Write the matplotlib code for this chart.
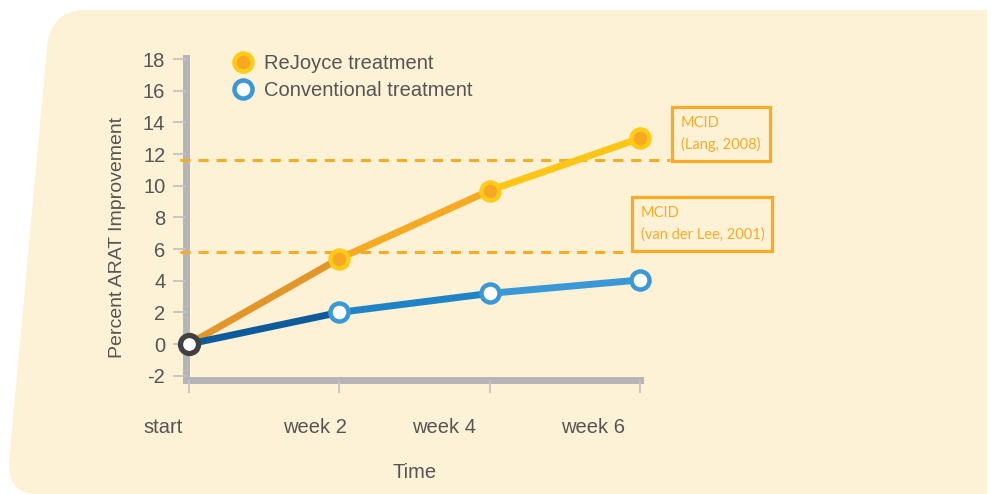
import matplotlib
matplotlib.use('Agg')
import matplotlib.pyplot as plt
from matplotlib.lines import Line2D
from matplotlib.patches import PathPatch, Rectangle
from matplotlib.path import Path
import matplotlib.transforms as transforms

# data
weeks = ['start', 'week 2', 'week 4', 'week 6']
rejoyce = [0, 5.4, 9.7, 13.0]
conventional = [0, 2.0, 3.2, 4.05]
mcid_lang = 11.6
mcid_vdl = 5.8
yticks = list(range(-2, 19, 2))

W, H = 991, 494
FONT = ['Liberation Sans', 'DejaVu Sans']
plt.rcParams['font.family'] = FONT

TXT = '#555555'
SPINE = '#b5b5b7'
ORANGE = '#f9ab25'
BG = '#fdf2d6'
FS = 14.5

fig = plt.figure(figsize=(W / 100, H / 100), dpi=100)
fig.patch.set_facecolor('white')

# pixel -> figure transform (y measured from the top)
px = transforms.Affine2D().scale(1 / W, -1 / H).translate(0, 1) + fig.transFigure

# background card with two rounded corners on the left
verts = [(82, 10), (987, 10), (987, 494), (36, 494),
         (16, 494), (8, 480), (9, 462),
         (47, 48), (48, 26), (62, 10), (82, 10)]
codes = [Path.MOVETO, Path.LINETO, Path.LINETO, Path.LINETO,
         Path.CURVE4, Path.CURVE4, Path.CURVE4,
         Path.LINETO, Path.CURVE4, Path.CURVE4, Path.CURVE4]
fig.patches.append(PathPatch(Path(verts, codes), facecolor=BG, edgecolor='none',
                             transform=px, zorder=-5))

ax = fig.add_axes([185.5 / W, 1 - 380 / H, (640 - 185.5) / W, (380 - 58) / H])
ax.set_facecolor('none')
ax.set_zorder(2)
x = list(range(len(weeks)))
ax.set_xlim(-0.023, 3)
ax.set_ylim(-2.27, 18.07)

for s in ['top', 'right']:
    ax.spines[s].set_visible(False)
for s in ['left', 'bottom']:
    ax.spines[s].set_color(SPINE)
    ax.spines[s].set_linewidth(5)
    ax.spines[s].set_zorder(1)

ax.set_yticks(yticks)
ax.set_yticklabels([str(v) for v in yticks])
ax.set_xticks(x)
ax.set_xticklabels(weeks)
ax.tick_params(axis='both', length=9.5, width=1.3, color='#c4c4c4',
               labelcolor=TXT, labelsize=FS)
ax.tick_params(axis='y', pad=5)
ax.tick_params(axis='x', pad=18)

# x tick labels sit a bit left of their ticks in the original
shifts = [-26, -24, -46, -47]
for lab, dx in zip(ax.get_xticklabels(), shifts):
    lab.set_transform(lab.get_transform() +
                      transforms.ScaledTranslation(dx / 100, 0, fig.dpi_scale_trans))

# MCID reference lines
ax.plot([-0.06, 3.2], [mcid_lang] * 2, color=ORANGE, lw=2.2, dashes=(3.3, 2.6),
        clip_on=False, zorder=2)
ax.plot([-0.06, 2.93], [mcid_vdl] * 2, color=ORANGE, lw=2.2, dashes=(3.3, 2.6),
        clip_on=False, zorder=2)

# series lines, colour changing along the way
rj_cols = ['#e2962a', '#f8a922', '#fdc616']
cv_cols = ['#0e5b9b', '#1f84c5', '#3a98d5']
for i in range(len(x) - 1):
    ax.plot(x[i:i + 2], rejoyce[i:i + 2], color=rj_cols[i], lw=5,
            solid_capstyle='butt', clip_on=False, zorder=3)
    ax.plot(x[i:i + 2], conventional[i:i + 2], color=cv_cols[i], lw=5,
            solid_capstyle='butt', clip_on=False, zorder=3)

rj_style = dict(marker='o', ms=13, mew=3.2, mfc='#f6a823', mec='#ffcb17', ls='none')
cv_style = dict(marker='o', ms=13, mew=3.2, mfc='white', mec='#3a98d6', ls='none')
ax.plot(x[1:], rejoyce[1:], clip_on=False, zorder=4, **rj_style)
ax.plot(x[1:], conventional[1:], clip_on=False, zorder=4, **cv_style)
ax.plot(x[:1], conventional[:1], marker='o', ms=13, mew=3.8, mfc='white',
        mec='#414042', ls='none', clip_on=False, zorder=5)

# legend
handles = [Line2D([], [], **rj_style), Line2D([], [], **cv_style)]
leg = ax.legend(handles, ['ReJoyce treatment', 'Conventional treatment'],
                loc='upper left', bbox_to_anchor=(233 / W, 1 - 54 / H),
                bbox_transform=fig.transFigure, frameon=False, fontsize=FS,
                labelcolor=TXT, handlelength=1.0, handletextpad=0.55,
                labelspacing=0.42, borderpad=0, borderaxespad=0)

# MCID boxes
mfont = ['Lato', 'DejaVu Sans']
for (x0, y0, x1, y1), txt in [((672, 107, 770, 161), 'MCID\n(Lang, 2008)'),
                              ((632, 197, 772, 251), 'MCID\n(van der Lee, 2001)')]:
    fig.patches.append(Rectangle((x0, y1), x1 - x0, y0 - y1, transform=px,
                                 facecolor='none', edgecolor=ORANGE, lw=2.3, zorder=3))
    fig.text(x0 + 9, (y0 + y1) / 2, txt, transform=px, ha='left', va='center',
             color=ORANGE, fontsize=10.5, family=mfont, linespacing=1.6)

fig.text(117, 237, 'Percent ARAT Improvement', transform=px, rotation=90,
         ha='center', va='center', color=TXT, fontsize=14)
fig.text(415, 472, 'Time', transform=px, ha='center', va='center', color=TXT,
         fontsize=FS)

fig.savefig('out.png', dpi=100, facecolor=fig.get_facecolor())
